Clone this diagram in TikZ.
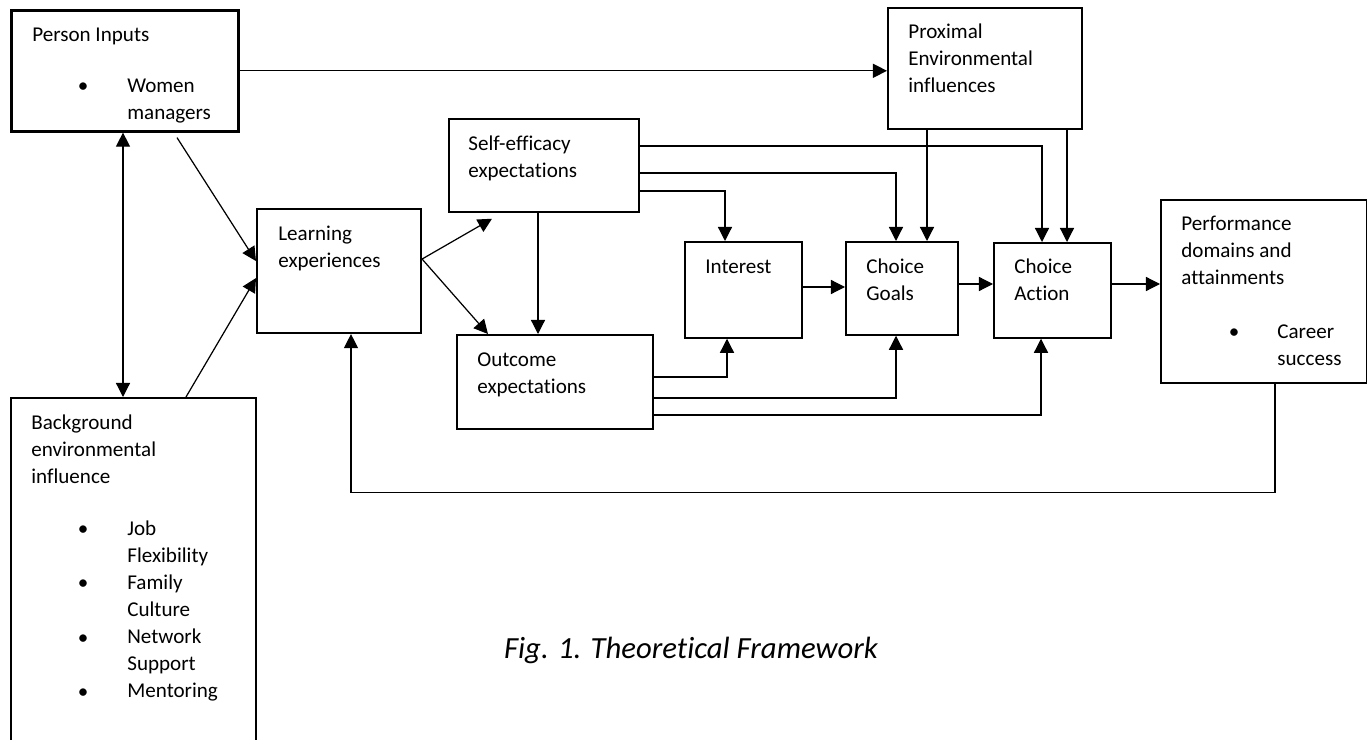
\documentclass[tikz,border=0pt]{standalone}
\usepackage{fontspec}
\setmainfont{Carlito}[Ligatures=NoCommon]
\usetikzlibrary{arrows.meta}

\begin{document}
\begin{tikzpicture}[x=0.02cm, y=-0.02cm,
        box/.style={draw, line width=1pt, anchor=north west, inner sep=0pt},
        txt/.style={anchor=north west, inner sep=0pt, align=left, font=\fontsize{12}{15.4}\selectfont},
        arr/.style={-{Triangle[length=8pt,width=8pt]}, line width=0.7pt},
        arrs/.style={{Triangle[length=8pt,width=8pt]}-{Triangle[length=8pt,width=8pt]}, line width=0.7pt}]
        \useasboundingbox (0,0) rectangle (1367,740);

        \node[box, line width=1.5pt, minimum width=4.54cm, minimum height=2.42cm] (pin) at (10,9) {};
        \node[box, minimum width=4.9cm, minimum height=7cm] (bg) at (10,397) {};
        \node[box, line width=1.2pt, minimum width=3.28cm, minimum height=2.48cm] (lrn) at (256,208) {};
        \node[box, minimum width=3.8cm, minimum height=1.86cm] (self) at (448,118) {};
        \node[box, minimum width=3.92cm, minimum height=1.88cm] (out) at (456,334) {};
        \node[box, minimum width=2.34cm, minimum height=1.92cm] (int) at (684,241) {};
        \node[box, minimum width=2.24cm, minimum height=1.86cm] (goal) at (845,241) {};
        \node[box, minimum width=2.34cm, minimum height=1.9cm] (act) at (993,242) {};
        \node[box, minimum width=3.88cm, minimum height=2.42cm] (prox) at (887,7) {};
        \node[box, minimum width=4.12cm, minimum height=3.66cm] (perf) at (1160,199) {};

        \node[txt] (pin-t) at (32,22) {\strut Person Inputs};
        \node[txt, anchor=north] (pin-b) at (83,73) {\strut\textbullet};
        \node[txt] (pin-i) at (127,73) {\strut Women\\managers};
        \node[txt] (bg-t) at (31,410) {\strut Background\\environmental\\influence};
        \foreach \i in {0,...,3}
            \node[txt, anchor=north] (bg-b\i) at (83,{516+54.4*\i}) {\strut\textbullet};
        \node[txt] (bg-i) at (127,516) {\strut Job\\Flexibility\\Family\\Culture\\Network\\Support\\Mentoring};
        \node[txt] (lrn-t) at (278,221) {\strut Learning\\experiences};
        \node[txt] (self-t) at (468,131) {\strut Self-efficacy\\expectations};
        \node[txt] (out-t) at (477,347) {\strut Outcome\\expectations};
        \node[txt] (int-t) at (705,254) {\strut Interest};
        \node[txt] (goal-t) at (866,254) {\strut Choice\\Goals};
        \node[txt] (act-t) at (1014,254) {\strut Choice\\Action};
        \node[txt] (prox-t) at (908,19) {\strut Proximal\\Environmental\\influences};
        \node[txt] (perf-t) at (1181,211) {\strut Performance\\domains and\\attainments};
        \node[txt, anchor=north] (perf-b) at (1234,319) {\strut\textbullet};
        \node[txt] (perf-i) at (1277,319) {\strut Career\\success};

        \node[font=\fontsize{17.5}{21}\selectfont\itshape] (cap) at (691,650) {Fig. 1. Theoretical Framework};

        \draw[arr] (pin.east) -- (pin.east -| prox.west);
        \draw[arrs] (123,0 |- pin.south) -- (123,0 |- bg.north);
        \draw[arr] ([shift={(167,5)}]pin.south west) -- ([shift={(0,-10)}]lrn.west);
        \draw[arr] ([shift={(176,0)}]bg.north west) -- ([shift={(0,7)}]lrn.west);
        \draw[arr] ([shift={(0,-12)}]lrn.east) -- ([shift={(44,6)}]self.south west);
        \draw[arr] ([shift={(0,-12)}]lrn.east) -- ([shift={(32,0)}]out.north west);
        \draw[arr] (538,0 |- self.south) -- (538,0 |- out.north);
        \draw[arr] (self.east |- 0,191) -| (725,0 |- int.north);
        \draw[arr] (self.east |- 0,173) -| (896,0 |- goal.north);
        \draw[arr] (self.east |- 0,146) -| (1042,0 |- act.north);
        \draw[arr] (927,0 |- prox.south) -- (927,0 |- goal.north);
        \draw[arr] (1067,0 |- prox.south) -- (1067,0 |- act.north);
        \draw[arr] (int.east |- 0,287) -- (goal.west |- 0,287);
        \draw[arr] (goal.east |- 0,284) -- (act.west |- 0,284);
        \draw[arr] (act.east |- 0,284) -- (perf.west |- 0,284);
        \draw[arr] (out.east |- 0,377) -| (727,0 |- int.south);
        \draw[arr] (out.east |- 0,398) -| (896,0 |- goal.south);
        \draw[arr] (out.east |- 0,415) -| (1041,0 |- act.south);
        \draw[arr] (1275,0 |- perf.south) -- ++(0,109) -| (351,0 |- lrn.south);
    \end{tikzpicture}
\end{document}
